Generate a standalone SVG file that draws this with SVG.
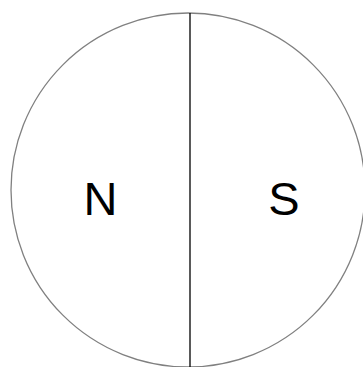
<svg xmlns="http://www.w3.org/2000/svg" width="363" height="367" viewBox="0 0 363 367">
<style>
.lbl{font-family:"Liberation Sans",Arial,sans-serif;font-size:47px;fill:#000}
</style>
<rect width="363" height="367" fill="#fff"/>
<g id="magnet">
<circle cx="188" cy="190" r="177" fill="none" stroke="#808080" stroke-width="1.3"/>
</g>
<g id="connectors">
<line x1="190" y1="13" x2="190" y2="367" stroke="#000" stroke-width="1.3"/>
</g>
<g id="north"><text class="lbl" x="100.5" y="215" text-anchor="middle">N</text></g>
<g id="south"><text class="lbl" x="284" y="215" text-anchor="middle">S</text></g>
</svg>
